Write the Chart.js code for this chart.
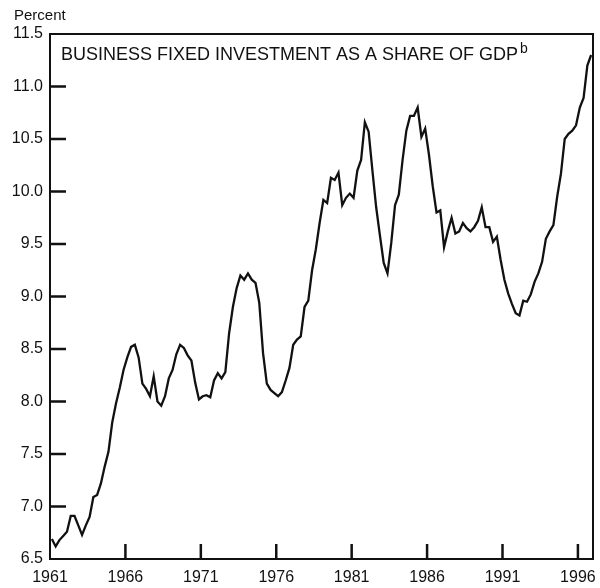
<!DOCTYPE html>
<html>
<head>
<meta charset="utf-8">
<script src="https://cdn.jsdelivr.net/npm/chart.js@4"></script>
<style>
  html, body { margin: 0; padding: 0; background: #fff; }
  #wrap { width: 600px; height: 588px; position: relative; }
</style>
</head>
<body>
<div id="wrap"><canvas id="chart"></canvas></div>
<script>
// Quarterly values, 1961Q1 .. 1996Q4 (percent of GDP)
const startYear = 1961
const shareOfGdp = [
  6.69, 6.62, 6.68, 6.72, 6.76, 6.91, 6.91, 6.82,
  6.73, 6.82, 6.90, 7.09, 7.11, 7.22, 7.38, 7.52,
  7.80, 7.98, 8.13, 8.30, 8.42, 8.52, 8.54, 8.42,
  8.17, 8.12, 8.05, 8.24, 8.00, 7.96, 8.05, 8.22,
  8.30, 8.45, 8.54, 8.51, 8.44, 8.39, 8.18, 8.02,
  8.05, 8.06, 8.04, 8.20, 8.27, 8.22, 8.28, 8.65,
  8.90, 9.08, 9.20, 9.16, 9.22, 9.16, 9.13, 8.94,
  8.46, 8.17, 8.11, 8.08, 8.05, 8.09, 8.20, 8.32,
  8.54, 8.59, 8.62, 8.90, 8.96, 9.25, 9.45, 9.70,
  9.92, 9.89, 10.13, 10.11, 10.18, 9.87, 9.94, 9.98,
  9.94, 10.20, 10.30, 10.66, 10.57, 10.20, 9.85, 9.58,
  9.32, 9.22, 9.51, 9.87, 9.97, 10.30, 10.58, 10.72,
  10.72, 10.80, 10.52, 10.60, 10.35, 10.05, 9.80, 9.82,
  9.47, 9.62, 9.75, 9.60, 9.62, 9.70, 9.65, 9.62,
  9.66, 9.72, 9.85, 9.66, 9.66, 9.52, 9.57, 9.35,
  9.16, 9.03, 8.93, 8.84, 8.82, 8.96, 8.95, 9.02,
  9.14, 9.22, 9.33, 9.55, 9.62, 9.68, 9.95, 10.17,
  10.50, 10.55, 10.58, 10.63, 10.80, 10.89, 11.20, 11.30
]
const yearTicks = [1961, 1966, 1971, 1976, 1981, 1986, 1991, 1996]
const percentTicks = [6.5, 7.0, 7.5, 8.0, 8.5, 9.0, 9.5, 10.0, 10.5, 11.0, 11.5]
const titleText = "BUSINESS FIXED INVESTMENT AS A SHARE OF GDP"
const titleNote = "b"
const unitLabel = "Percent"

const FONT = "'Liberation Sans', Arial, sans-serif"

// quarter points plotted at mid-quarter
const points = shareOfGdp.map((v, i) => ({ x: startYear + (i + 0.5) / 4, y: v }))

// box, inward tick marks, title and unit label
const decorations = {
  id: "decorations",
  afterDraw(chart) {
    const { ctx, chartArea: a, scales } = chart
    ctx.save()
    ctx.strokeStyle = "#111"
    ctx.lineWidth = 2
    ctx.strokeRect(a.left, a.top, a.right - a.left, a.bottom - a.top)

    ctx.lineWidth = 2.5
    ctx.beginPath()
    yearTicks.slice(1).forEach((t) => {
      const x = scales.x.getPixelForValue(t)
      ctx.moveTo(x, a.bottom)
      ctx.lineTo(x, a.bottom - 15)
    })
    percentTicks.slice(1, -1).forEach((t) => {
      const y = scales.y.getPixelForValue(t)
      ctx.moveTo(a.left, y)
      ctx.lineTo(a.left + 16, y)
    })
    ctx.stroke()

    ctx.fillStyle = "#111"
    ctx.textBaseline = "alphabetic"
    ctx.textAlign = "left"
    ctx.font = "18px " + FONT
    ctx.fillText(titleText, a.left + 11, a.top + 26)
    const w = ctx.measureText(titleText).width
    ctx.font = "14px " + FONT
    ctx.fillText(titleNote, a.left + 11 + w + 2, a.top + 19)

    ctx.font = "15px " + FONT
    ctx.fillText(unitLabel, 14, 20)
    ctx.restore()
  },
}

new Chart(document.getElementById("chart"), {
  type: "line",
  data: {
    datasets: [
      {
        data: points,
        borderColor: "#111",
        borderWidth: 2.3,
        pointRadius: 0,
        tension: 0,
        fill: false,
      },
    ],
  },
  options: {
    responsive: true,
    maintainAspectRatio: false,
    animation: false,
    layout: { padding: { top: 34, right: 7, left: 0, bottom: 0 } },
    plugins: { legend: { display: false }, tooltip: { enabled: false } },
    scales: {
      x: {
        type: "linear",
        min: 1961,
        max: 1997,
        afterBuildTicks: (s) => { s.ticks = yearTicks.map((v) => ({ value: v })) },
        afterFit: (s) => {
          s.height = 29
          s.paddingLeft = 0
          s.paddingRight = 0
        },
        grid: { display: false, drawTicks: false, tickLength: 0 },
        border: { display: false },
        ticks: {
          color: "#111",
          font: { family: FONT, size: 16 },
          padding: 9,
          maxRotation: 0,
          autoSkip: false,
          callback: (v) => String(v),
        },
      },
      y: {
        min: 6.5,
        max: 11.5,
        afterBuildTicks: (s) => { s.ticks = percentTicks.map((v) => ({ value: v })) },
        afterFit: (s) => { s.width = 50 },
        grid: { display: false, drawTicks: false, tickLength: 0 },
        border: { display: false },
        ticks: {
          color: "#111",
          font: { family: FONT, size: 16 },
          padding: 7,
          autoSkip: false,
          callback: (v) => v.toFixed(1),
        },
      },
    },
  },
  plugins: [decorations],
})
</script>
</body>
</html>
